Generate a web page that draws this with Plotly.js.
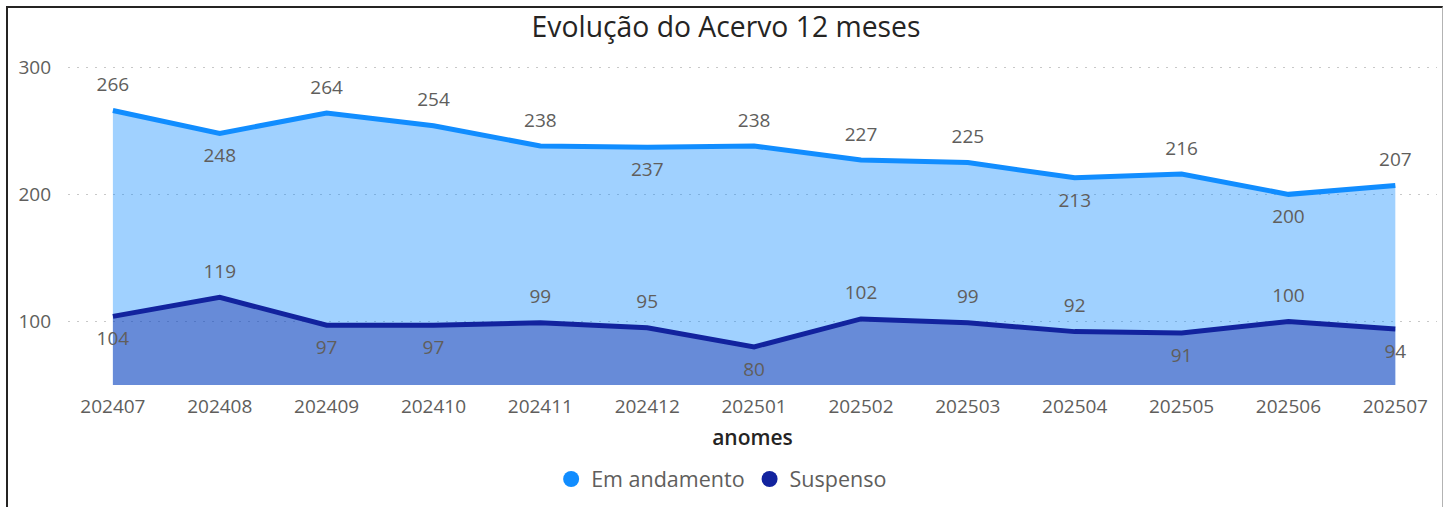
<!DOCTYPE html>
<html>
<head>
<meta charset="utf-8">
<script src="https://cdn.plot.ly/plotly-3.0.1.min.js"></script>
<style>
  html, body { margin: 0; padding: 0; background: #fff; overflow: hidden; }
  #chart { width: 1452px; height: 507px; }
  #frame { position: absolute; left: 6px; top: 6px; width: 1434px; height: 520px;
           border-left: 2px solid #252423; border-top: 2px solid #252423; border-right: 1px solid #b3b3b3;
           pointer-events: none; }
</style>
</head>
<body>
<div id="chart"></div>
<div id="frame"></div>
<script>
const categories = ['202407','202408','202409','202410','202411','202412','202501','202502','202503','202504','202505','202506','202507'];
const emAndamento = [266, 248, 264, 254, 238, 237, 238, 227, 225, 213, 216, 200, 207];
const suspenso = [104, 119, 97, 97, 99, 95, 80, 102, 99, 92, 91, 100, 94];
const yTicks = [100, 200, 300];
const seriesNames = ['Em andamento', 'Suspenso'];

// label placement (style only)
const emLabelPos = ['top center','bottom center','top center','top center','top center','bottom center','top center','top center','top center','bottom center','top center','bottom center','top center'];
const suspLabelPos = ['bottom center','top center','bottom center','bottom center','top center','top center','bottom center','top center','top center','top center','bottom center','top center','bottom center'];

const FONT = '"Open Sans", "Noto Sans", sans-serif';
const colEm = '#118DFF';
const colSusp = '#12239E';
const labelFont = { family: FONT, size: 19, color: '#605E5C' };

const traces = [
  { x: categories, y: emAndamento, type: 'scatter', mode: 'lines+markers+text', name: seriesNames[0],
    line: { color: colEm, width: 5, shape: 'linear' }, fill: 'tozeroy',
    fillcolor: 'rgba(17,141,255,0.4)', showlegend: false,
    marker: { size: 22, opacity: 0, color: colEm },
    text: emAndamento.map(String), textposition: emLabelPos, textfont: labelFont, cliponaxis: false },
  { x: categories, y: suspenso, type: 'scatter', mode: 'lines+markers+text', name: seriesNames[1],
    line: { color: colSusp, width: 5, shape: 'linear' }, fill: 'tozeroy',
    fillcolor: 'rgba(18,35,158,0.4)', showlegend: false,
    marker: { size: 22, opacity: 0, color: colSusp },
    text: suspenso.map(String), textposition: suspLabelPos, textfont: labelFont, cliponaxis: false },
  { x: [null], y: [null], type: 'scatter', mode: 'markers', name: seriesNames[0],
    marker: { color: colEm, size: 18, symbol: 'circle' }, showlegend: true },
  { x: [null], y: [null], type: 'scatter', mode: 'markers', name: seriesNames[1],
    marker: { color: colSusp, size: 18, symbol: 'circle' }, showlegend: true }
];

const layout = {
  width: 1452, height: 507,
  margin: { l: 68, r: 15, t: 66, b: 122 },
  paper_bgcolor: '#ffffff', plot_bgcolor: '#ffffff',
  title: { text: 'Evolução do Acervo 12 meses', x: 0.5, xanchor: 'center',
           y: 1 - 27 / 507, yref: 'container', yanchor: 'middle',
           font: { family: FONT, size: 28.3, color: '#252423' } },
  xaxis: { type: 'category', range: [-0.42, 12.39], showgrid: false, zeroline: false,
           showline: false, ticks: '', ticklabelstandoff: 8,
           tickfont: { family: FONT, size: 19, color: '#605E5C' },
           title: { text: 'anomes', standoff: 12,
                    font: { family: FONT, size: 21, color: '#252423', weight: 600 } } },
  yaxis: { range: [50, 301], tickvals: yTicks, showgrid: true, gridcolor: '#c8c8c8',
           griddash: '2px,7px', gridwidth: 1, zeroline: false, showline: false, ticks: '',
           ticklabelstandoff: 16, tickfont: { family: FONT, size: 19, color: '#605E5C' } },
  legend: { orientation: 'h', x: 0.497, xref: 'container', xanchor: 'center', y: 1 - 479 / 507,
            yref: 'container', yanchor: 'middle', font: { family: FONT, size: 21.5, color: '#605E5C' },
            itemwidth: 30, tracegroupgap: 0 },
  showlegend: true
};

Plotly.newPlot('chart', traces, layout, { displayModeBar: false, staticPlot: true });
</script>
</body>
</html>
